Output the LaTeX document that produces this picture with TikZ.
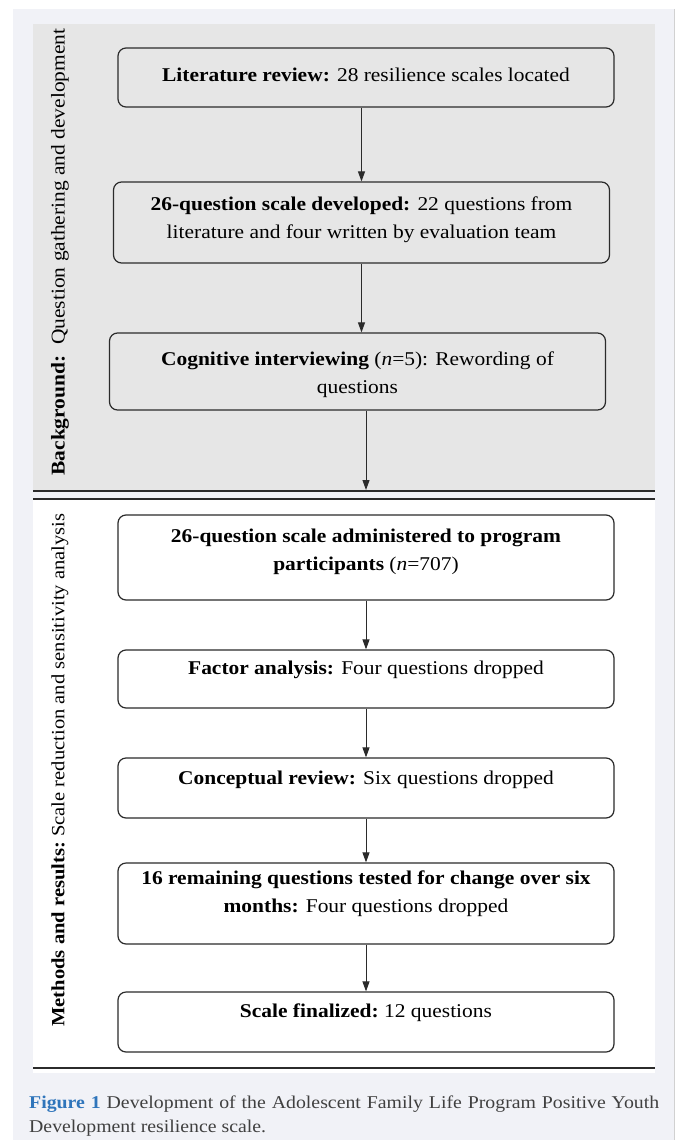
\documentclass[tikz,border=0pt]{standalone}
\usepackage{fontspec}
\setmainfont{Liberation Serif}[FakeStretch=1.1]
\usepackage{xcolor}
\usetikzlibrary{arrows.meta,calc}

\definecolor{pagebg}{HTML}{F1F2F7}
\definecolor{panelgray}{HTML}{E6E6E6}
\definecolor{figblue}{HTML}{2F75BB}
\definecolor{captext}{HTML}{404040}
\definecolor{boxline}{HTML}{2B2B2B}

\tikzset{
  stagebox/.style={draw=boxline, line width=1.2pt, rounded corners=8pt, inner sep=0pt,
    font=\fontsize{19.5}{28.5}\selectfont},
  flow/.style={draw=boxline, line width=1pt, -{Triangle[width=7pt,length=10pt]}},
  rule/.style={draw=boxline, line width=1.3pt},
  sidelabel/.style={rotate=90, inner sep=0pt},
}
% box of given height, text pushed down from the top
\newcommand{\stagetext}[3]{\parbox[c][#1pt][t]{496pt}{\centering\vspace*{#2pt}#3\par}}

\begin{document}
\begin{tikzpicture}[x=1pt,y=1pt]
\useasboundingbox (0,0) rectangle (677,-1140);
%backgrounds
\fill[pagebg] (13,-9) rectangle (674,-1140);
\draw[black!18, line width=1pt] (674,-9) -- (674,-1140);
\fill[panelgray] (33,-24) rectangle (655,-491);
\fill[white] (33,-499) rectangle (655,-1073);
\draw[rule] (33,-491) -- (655,-491);
\draw[rule] (33,-499) -- (655,-499);
\draw[rule] (33,-1068) -- (655,-1068);

%side labels
\node[sidelabel, font=\fontsize{19.5}{19.5}\selectfont] (bglab) at (60,-252) {\textbf{Background:}\ \ Question gathering and development};
\node[sidelabel, font=\fontsize{18.7}{18.7}\selectfont] (mrlab) at (60,-770) {\textbf{Methods and results:}\ Scale reduction and sensitivity analysis};

%upper stages
\node[stagebox] (lit) at (366,-77.5) {\stagetext{59}{19.5}{\textbf{Literature review:} 28 resilience scales located}};
\node[stagebox] (dev) at (361.5,-222.5) {\stagetext{81}{14.5}{\textbf{26-question scale developed:} 22 questions from\\ literature and four written by evaluation team}};
\node[stagebox] (cog) at (357.5,-371.5) {\stagetext{77}{18.5}{\textbf{Cognitive interviewing} (\textit{n}=5): Rewording of\\ questions}};

%lower stages
\node[stagebox] (adm) at (366,-557.5) {\stagetext{85}{13.5}{\textbf{26-question scale administered to program\\ participants} (\textit{n}=707)}};
\node[stagebox] (fac) at (366,-679) {\stagetext{58}{10.5}{\textbf{Factor analysis:} Four questions dropped}};
\node[stagebox] (con) at (366,-788) {\stagetext{60}{12.5}{\textbf{Conceptual review:} Six questions dropped}};
\node[stagebox] (chg) at (366,-903.5) {\stagetext{81}{7.5}{\textbf{16 remaining questions tested for change over six\\ months:} Four questions dropped}};
\node[stagebox] (fin) at (366,-1022) {\stagetext{60}{11.5}{\textbf{Scale finalized:}\ 12 questions}};

%connectors
\coordinate (split) at (366,-490);
\draw[flow] (lit.south -| dev.north) -- (dev.north);
\draw[flow] (dev.south) -- (dev.south |- cog.north);
\draw[flow] (cog.south -| split) -- (split);
\foreach \a/\b in {adm/fac,fac/con,con/chg,chg/fin}
  \draw[flow] (\a.south) -- (\b.north);

%caption
\node[anchor=north west, inner sep=0pt, text=captext] (cap) at (29,-1096)
  {\parbox[t]{630pt}{\fontsize{18}{24}\selectfont
   \makebox[630pt][s]{\textcolor{figblue}{\textbf{Figure 1}} Development of the Adolescent Family Life Program Positive Youth}\\
   Development resilience scale.}};
\end{tikzpicture}
\end{document}
